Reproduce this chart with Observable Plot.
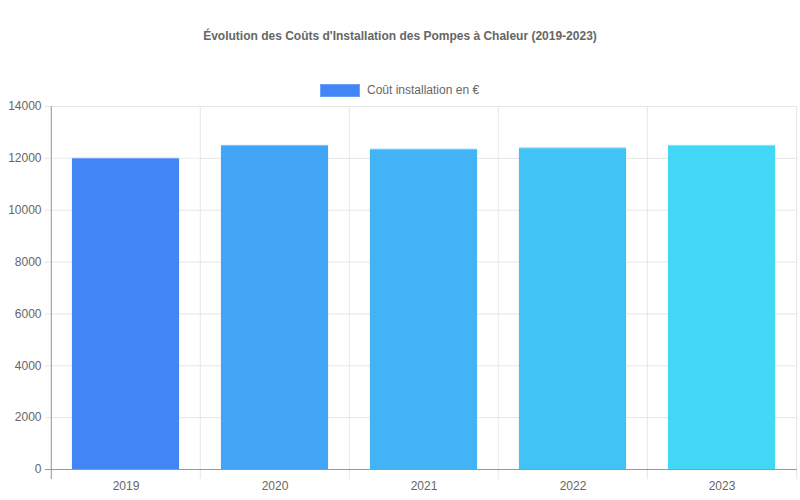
<!DOCTYPE html>
<html>
<head>
<meta charset="utf-8">
<script src="https://cdn.jsdelivr.net/npm/d3@7"></script>
<script src="https://cdn.jsdelivr.net/npm/@observablehq/plot@0.6"></script>
<style>
  body { margin: 0; background: #fff; font-family: "Liberation Sans", Arial, sans-serif; }
  #wrap { position: relative; width: 800px; height: 500px; }
  #title { position: absolute; left: 0; width: 800px; top: 29px; text-align: center; font-weight: bold; font-size: 12px; color: #666; }
  #legend { position: absolute; left: 320px; top: 83px; display: flex; align-items: center; font-size: 12px; color: #666; }
  #legend .sw { width: 38px; height: 11px; background: #4285F4; border: 1px solid #6aa0f7; margin-right: 7px; }
  #chart { position: absolute; left: 0; top: 0; }
</style>
</head>
<body>
<div id="wrap">
  <div id="chart"></div>
  <div id="title">Évolution des Coûts d'Installation des Pompes à Chaleur (2019-2023)</div>
  <div id="legend"><div class="sw"></div><span>Coût installation en €</span></div>
</div>
<script>
const years = ["2019", "2020", "2021", "2022", "2023"];
const costs = [12000, 12500, 12350, 12400, 12500];
const colors = ["#4285F4", "#42A5F5", "#42B4F5", "#41C4F5", "#42D7F5"];
const yTicks = [0, 2000, 4000, 6000, 8000, 10000, 12000, 14000];

const data = years.map((y, i) => ({year: y, cost: costs[i], color: colors[i]}));

const W = 800, H = 500, mL = 50, mR = 3, mT = 106, mB = 31;
const step = (W - mL - mR) / years.length;
const inset = step * 0.14;

const chart = Plot.plot({
  width: W, height: H,
  marginLeft: mL, marginRight: mR, marginTop: mT, marginBottom: mB,
  style: {fontFamily: "'Liberation Sans', Arial, sans-serif", fontSize: "12px", color: "#666", background: "#fff"},
  x: {domain: years, padding: 0, label: null},
  y: {domain: [0, 14000], label: null},
  marks: [
    Plot.ruleY(yTicks, {y: d => d, stroke: "#e6e6e6", strokeOpacity: 1, insetLeft: -5}),
    Plot.ruleX(years, {x: d => d, dx: -step / 2, stroke: "#e6e6e6", y1: 14000, y2: 0, insetBottom: -10}),
    Plot.ruleX([years[years.length - 1]], {x: d => d, dx: step / 2, stroke: "#e6e6e6", y1: 14000, y2: 0, insetBottom: -10}),
    Plot.barY(data, {x: "year", y: "cost", fill: d => d.color, insetLeft: inset, insetRight: inset}),
    Plot.ruleY(data, {x1: "year", x2: "year", y: "cost", stroke: "#ffffff", strokeOpacity: 0.35}),
    Plot.ruleX([years[0]], {x: d => d, dx: -step / 2, stroke: "#999", y1: 14000, y2: 0, insetBottom: -10}),
    Plot.ruleY([0], {stroke: "#999", insetLeft: -5}),
    Plot.axisY({ticks: yTicks, tickSize: 0, tickPadding: 9, tickFormat: d => String(d), fill: "#666", fontSize: 12}),
    Plot.axisX({tickSize: 0, tickPadding: 12, fill: "#666", fontSize: 12})
  ]
});
document.getElementById("chart").appendChild(chart);
</script>
</body>
</html>
